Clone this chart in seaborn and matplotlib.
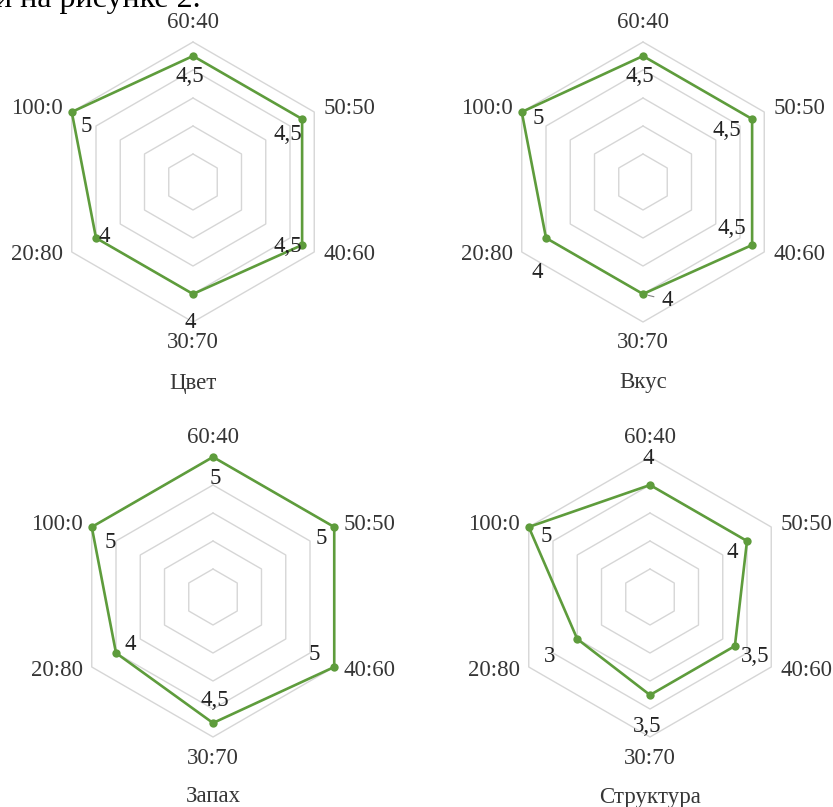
import numpy as np
import matplotlib
matplotlib.use("Agg")
import matplotlib.pyplot as plt
import seaborn as sns

# Blend ratios (axes of each radar) and sensory scores per attribute
categories = ["60:40", "50:50", "40:60", "30:70", "20:80", "100:0"]
color_scores = [4.5, 4.5, 4.5, 4, 4, 5]
taste_scores = [4.5, 4.5, 4.5, 4, 4, 5]
smell_scores = [5, 5, 5, 4.5, 4, 5]
texture_scores = [4, 4, 3.5, 3.5, 3, 5]
attributes = ["Цвет", "Вкус", "Запах", "Структура"]
scale_max = 5

sns.set_theme(style="white")
plt.rcParams["font.family"] = ["Liberation Serif", "DejaVu Serif"]

W, H = 833, 807
PX_PER_UNIT = 28.0       # radial scale: pixels per score point
HALF = 200               # half-size of each panel, pixels
GREEN = "#5e9c3c"
GRID = "#d6d6d6"
CAT_COLOR = "#363636"
VAL_COLOR = "#222222"
FS = 16.5

angles = np.deg2rad([90, 30, -30, -90, -150, 150])

# panel centres in pixels (x from left, y from top)
centres = [(193, 182), (643, 182), (213, 597), (650, 597)]

# value label offsets from the marker, pixels (right, down)
label_offsets = [
    [(-3, 21), (-14, 15), (-14, 2), (-3, 28), (8, -2), (14, 14)],
    [(-3, 21), (-25, 12), (-20, -17), (24, 6), (-9, 34), (16, 6)],
    [(2, 21), (-13, 11), (-20, -12), (2, -22), (14, -8), (18, 16)],
    [(-2, -27), (-15, 11), (20, 10), (-3, 32), (-28, 17), (17, 9)],
]
title_drop = [201, 201, 200, 200]

all_scores = [color_scores, taste_scores, smell_scores, texture_scores]


def fmt(v):
    return (f"{v:g}").replace(".", ",")


fig = plt.figure(figsize=(W / 100, H / 100), dpi=100)

for idx, (title, scores) in enumerate(zip(attributes, all_scores)):
    cx, cy = centres[idx]
    ax = fig.add_axes([(cx - HALF) / W, 1 - (cy + HALF) / H, 2 * HALF / W, 2 * HALF / H])
    lim = HALF / PX_PER_UNIT
    ax.set_xlim(-lim, lim)
    ax.set_ylim(-lim, lim)
    ax.set_aspect("equal")
    ax.axis("off")

    # hexagonal grid rings
    closed = np.append(angles, angles[0])
    for r in range(1, scale_max + 1):
        ax.plot(r * np.cos(closed), r * np.sin(closed), color=GRID, lw=1.0, zorder=1)

    vals = np.array(scores, dtype=float)
    xs = vals * np.cos(angles)
    ys = vals * np.sin(angles)
    sns.lineplot(x=np.append(xs, xs[0]), y=np.append(ys, ys[0]), sort=False,
                 estimator=None, color=GREEN, lw=1.9, ax=ax, zorder=3)
    sns.scatterplot(x=xs, y=ys, color=GREEN, s=36, edgecolor=GREEN, linewidth=0,
                    ax=ax, zorder=4, legend=False)

    # value labels
    for k, v in enumerate(scores):
        dx, dy = label_offsets[idx][k]
        kw = {}
        if idx == 1 and k == 3:
            kw["arrowprops"] = dict(arrowstyle="-", color="#808080", lw=0.8,
                                    shrinkA=3, shrinkB=4)
        ax.annotate(fmt(v), xy=(xs[k], ys[k]), xytext=(dx, -dy),
                    textcoords="offset pixels", ha="center", va="center",
                    fontsize=FS, color=VAL_COLOR, zorder=5, **kw)

    # category labels around the hexagon
    R = scale_max * PX_PER_UNIT
    side_x = (R * np.cos(np.deg2rad(30)) + 9) / PX_PER_UNIT
    side_y = 73 / PX_PER_UNIT
    ax.text(0, 160 / PX_PER_UNIT, categories[0], ha="center", va="center",
            fontsize=FS, color=CAT_COLOR)
    ax.text(side_x, side_y, categories[1], ha="left", va="center", fontsize=FS, color=CAT_COLOR)
    ax.text(side_x, -side_y, categories[2], ha="left", va="center", fontsize=FS, color=CAT_COLOR)
    ax.text(0, -161 / PX_PER_UNIT, categories[3], ha="center", va="center",
            fontsize=FS, color=CAT_COLOR)
    ax.text(-side_x, -side_y, categories[4], ha="right", va="center", fontsize=FS, color=CAT_COLOR)
    ax.text(-side_x, side_y, categories[5], ha="right", va="center", fontsize=FS, color=CAT_COLOR)

    ax.text(0, -title_drop[idx] / PX_PER_UNIT, title, ha="center", va="center",
            fontsize=FS, color=CAT_COLOR)

# running text of the page above the figure
fig.text(201 / W, 1 - 7 / H, "и на рисунке 2.", ha="right", va="baseline",
         fontsize=23, color="black")

fig.savefig("out.png", dpi=100)
